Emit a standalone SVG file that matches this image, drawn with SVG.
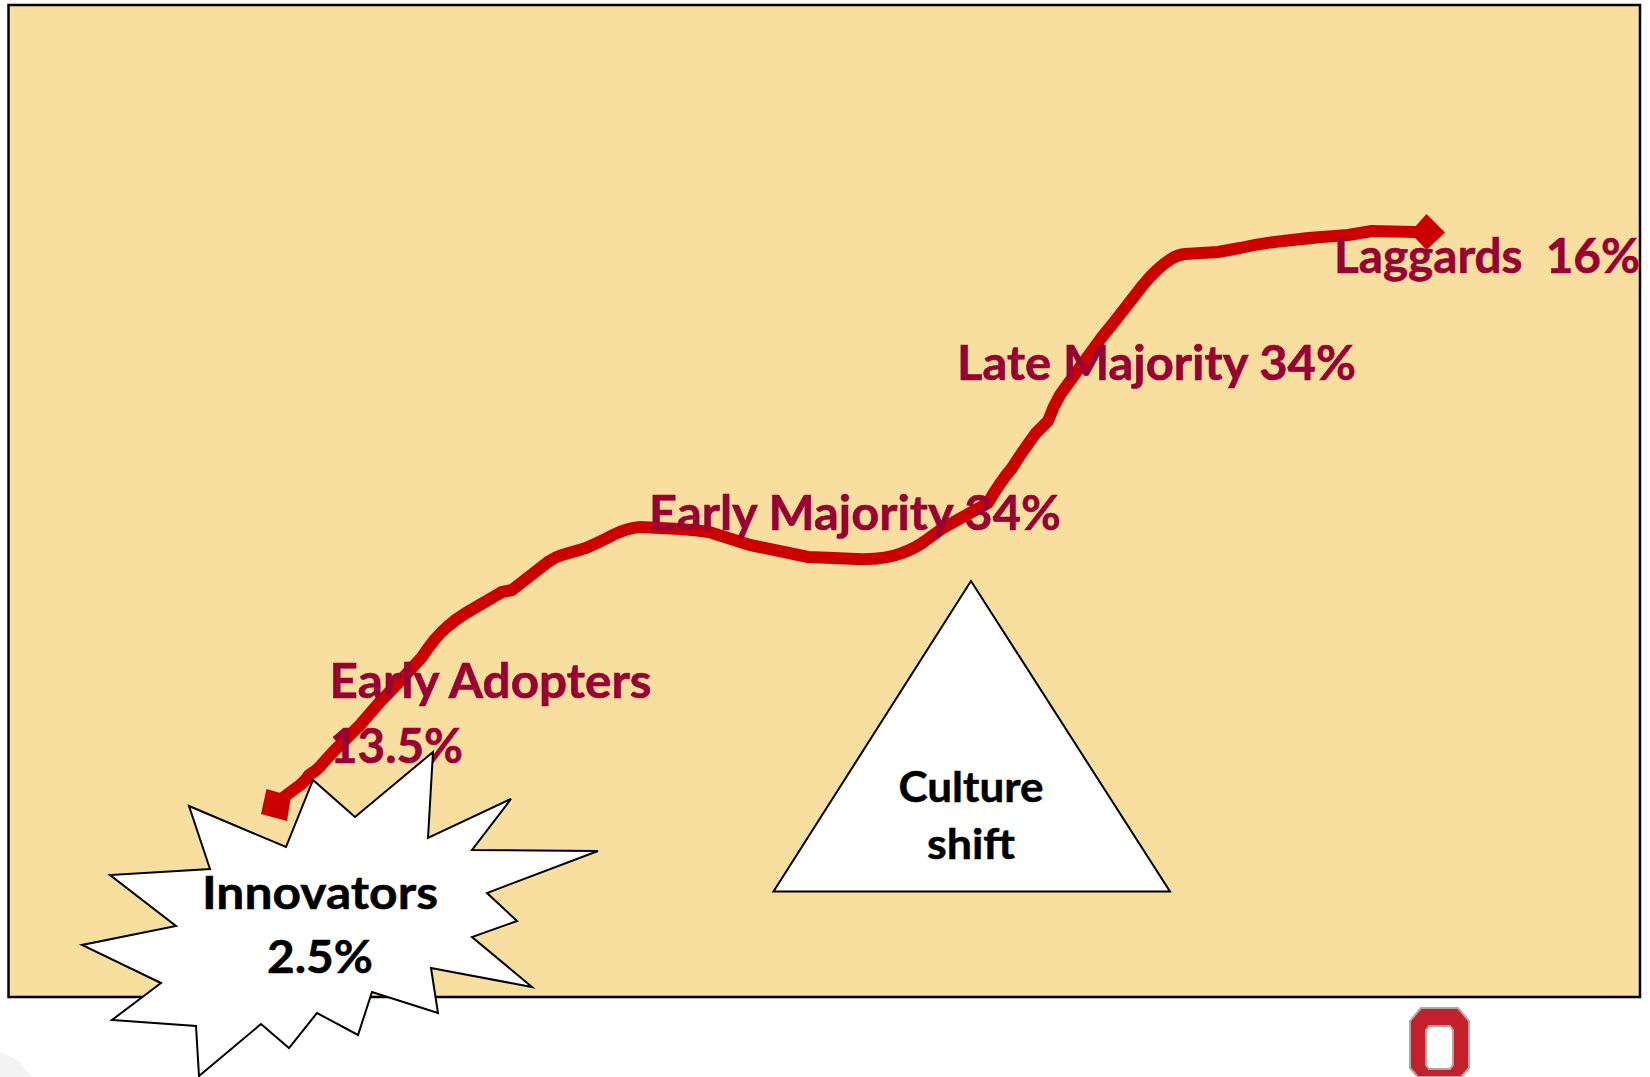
<svg xmlns="http://www.w3.org/2000/svg" width="1650" height="1077" viewBox="0 0 1650 1077">
<style>
.lbl{font-family:"Lato","Liberation Sans",sans-serif;font-weight:700;font-size:48px;fill:#990033;stroke:#990033;stroke-width:.6}
.blk{font-family:"Lato","Liberation Sans",sans-serif;font-weight:700;fill:#000;stroke:#000;stroke-width:.5;text-anchor:middle}
.shape{fill:#fff;stroke:#000;stroke-width:2;stroke-linejoin:miter}
.curve{fill:none;stroke:#cc0000;stroke-width:12;stroke-linejoin:round;stroke-linecap:round}
</style>
<rect width="1650" height="1077" fill="#fff"/>
<polygon points="0,1052 18,1060 32,1077 0,1077" fill="#f3f3f3"/>
<rect id="background" x="8.5" y="5" width="1631.5" height="992" fill="#F9DF9F" stroke="#000" stroke-width="2.5"/>
<g id="logo">
<path fill-rule="evenodd" d="M1421,1008H1458L1469,1021V1068L1461,1077H1418L1410,1068V1021ZM1429,1026L1426,1030V1065L1429,1069H1450L1453,1065V1030L1450,1026Z" fill="#C4202B" stroke="#B5A5A5" stroke-width="2"/>
</g>
<g id="connectors">
<path class="curve" d="M276,805 L284,797 L296,788 Q304,783 309,775 Q318,770 323,763 L333,752 L360,725 L379,703 L401,680 L422,657 Q435,637 447,627 Q456,619 466,613 L502,592 L512,590 L548,562 Q555,557 562,555 L586,548 Q602,541 613,535 Q627,528 640,527 L680,529 Q696,530 709,532 L750,545 L808,557 Q835,558 856,559 Q885,560 902,553 Q916,548 925,541 L943,528 L988,503 Q1000,482 1012,468 Q1022,452 1036,433 L1048,421 Q1053,407 1060,395 L1078,370 L1102,337 L1115,321 L1143,285 Q1157,268 1171,259 Q1177,255 1185,254 Q1202,253 1218,252 L1240,248 Q1263,243 1283,241 Q1315,237 1348,235 L1372,231 L1416,232"/>
</g>
<g id="marker-start"><polygon points="266.5,789 291,796 287,821 261,814" fill="#cc0000"/></g>
<g id="marker-end"><polygon points="1426.5,214 1445,232.5 1426.5,250 1410,232.5" fill="#cc0000"/></g>
<g id="early-adopters">
<text class="lbl" x="329.5" y="698" textLength="322" lengthAdjust="spacingAndGlyphs">Early Adopters</text>
<text class="lbl" x="330" y="763" textLength="133" lengthAdjust="spacingAndGlyphs">13.5%</text>
</g>
<g id="early-majority"><text class="lbl" x="649" y="530" textLength="412" lengthAdjust="spacingAndGlyphs">Early Majority 34%</text></g>
<g id="late-majority"><text class="lbl" x="957" y="380" textLength="399" lengthAdjust="spacingAndGlyphs">Late Majority 34%</text></g>
<g id="laggards"><text class="lbl" x="1334" y="273" textLength="306" lengthAdjust="spacingAndGlyphs" xml:space="preserve">Laggards  16%</text></g>
<g id="innovators">
<polygon class="shape" points="189,806 286,847 313,780 355,817 433,752 428,838 511,799 472,850 598,851 487,893 517,921 472,937 532,987 431,968 438,1013 372,992 358,1035 317,1013 289,1048 261,1024 199,1076 196,1026 112,1020 161,983 82,945 176,926 110,875 210,869"/>
<text class="blk" font-size="46" x="320" y="909" textLength="236" lengthAdjust="spacingAndGlyphs">Innovators</text>
<text class="blk" font-size="46" x="320" y="973" textLength="106" lengthAdjust="spacingAndGlyphs">2.5%</text>
</g>
<g id="culture-shift">
<polygon class="shape" points="971,581 773.5,891.5 1170,891.5"/>
<text class="blk" font-size="42" x="971" y="802" textLength="145" lengthAdjust="spacingAndGlyphs">Culture</text>
<text class="blk" font-size="42" x="971" y="859" textLength="88" lengthAdjust="spacingAndGlyphs">shift</text>
</g>
</svg>
